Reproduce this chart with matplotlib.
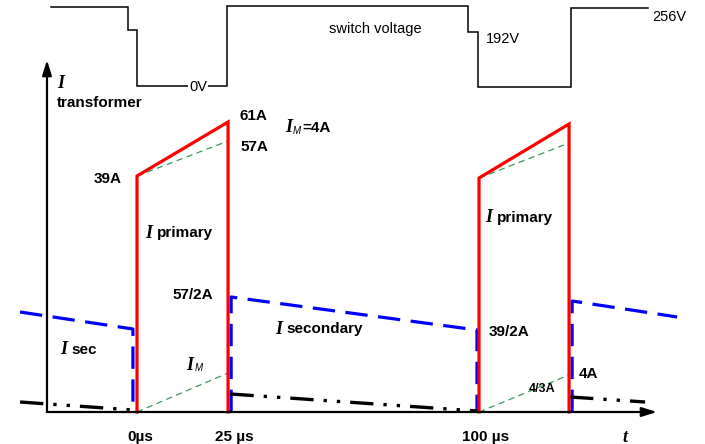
import matplotlib
matplotlib.use("Agg")
import matplotlib.pyplot as plt

# schematic flyback/forward waveforms
# x in microseconds, y in drawing units above the time axis

# switch voltage (top trace)
v_t = [-25.2, -2.7, -2.7, 0.1, 0.1, 26.4, 26.4, 97.0, 97.0, 100.0, 100.0, 127.4, 127.4, 149.9]
v_y = [404.7, 404.7, 382, 382, 326, 326, 406.3, 406.3, 379.7, 379.7, 325.3, 325.3, 403.7, 403.7]

# primary current pulses (red)
prim_on = [0.0, 100.3]
prim_off = [26.7, 126.7]
prim_lo = [236, 234]
prim_hi = [290, 288]

# reflected load current and magnetizing ramp (green, thin dashed)
refl_hi = [271, 269]
mag_hi = [39, 37]

# secondary current (blue dashed)
sec_t = [[-34.3, -1.2, -1.2], [27.6, 27.6, 99.7, 99.7], [127.6, 127.6, 158.4]]
sec_i = [[100, 83, 0], [0, 115, 82, 0], [0, 111, 95]]

# magnetizing current while switch is off (black dash-dot-dot)
moff_t = [[-34.3, -1.2], [27.4, 99.7], [127.0, 149.0]]
moff_i = [[10, 2], [18, 1], [15, 10]]

tick_pos = [0.9, 28.4, 102.1]
tick_lab = ["0\u00b5s", "25 \u00b5s", "100 \u00b5s"]

# bold current labels: text, x, y, ha
cur_labels = [
    ("39A", -4.4, 233, "right"),
    ("61A", 30.2, 296, "left"),
    ("57A", 30.2, 265, "left"),
    ("57/2A", 10.3, 117, "left"),
    ("39/2A", 103.2, 80, "left"),
    ("4A", 129.6, 38, "left"),
]

sans = "Liberation Sans"
serif = "Liberation Serif"

fig = plt.figure(figsize=(7.05, 4.44), dpi=100)
ax = fig.add_axes([0, 0, 1, 1])
ax.set_xlim(-40.18, 166.57)
ax.set_ylim(-32, 412)
ax.set_axis_off()

# axes with arrows
ax.annotate("", xy=(152.5, 0), xytext=(-26.4, 0),
            arrowprops=dict(arrowstyle="-|>,head_length=0.9,head_width=0.28",
                            lw=1.6, color="black", shrinkA=0, shrinkB=0))
ax.annotate("", xy=(-26.4, 352), xytext=(-26.4, 0),
            arrowprops=dict(arrowstyle="-|>,head_length=0.9,head_width=0.28",
                            lw=1.6, color="black", shrinkA=0, shrinkB=0))

# switch voltage
ax.plot(v_t, v_y, color="black", lw=1.1, solid_joinstyle="miter")

# secondary current
for tt, ii in zip(sec_t, sec_i):
    ax.plot(tt, ii, color="#0000ff", lw=2.3, dashes=(7, 3.3), solid_joinstyle="miter")

# magnetizing current during off time
for tt, ii in zip(moff_t, moff_i):
    ax.plot(tt, ii, color="black", lw=2.4, dashes=(7, 3, 1, 3, 1, 3))

# green helper lines
for k in range(2):
    ax.plot([prim_on[k], prim_off[k]], [prim_lo[k], refl_hi[k]], color="#3a9a5c", lw=0.9, dashes=(5, 3.5))
    ax.plot([prim_on[k], prim_off[k]], [0, mag_hi[k]], color="#3a9a5c", lw=0.9, dashes=(5, 3.5))

# primary current
for k in range(2):
    ax.plot([prim_on[k], prim_on[k], prim_off[k], prim_off[k]],
            [0, prim_lo[k], prim_hi[k], 0], color="#ff0000", lw=2.3, solid_joinstyle="miter")

# texts - voltage trace
ax.text(69.8, 383, "switch voltage", fontsize=10.5, family=sans, ha="center", va="center")
ax.text(102.3, 373, "192V", fontsize=10.5, family=sans, ha="left", va="center")
ax.text(151.1, 395, "256V", fontsize=10.5, family=sans, ha="left", va="center")
ax.text(17.9, 325, "0V", fontsize=10.5, family=sans, ha="center", va="center",
        bbox=dict(facecolor="white", edgecolor="none", pad=0.6))

# axis labels
ax.text(-23.5, 328, "I", fontsize=13, family=serif, weight="bold", style="italic", ha="left", va="center")
ax.text(-23.5, 309, "transformer", fontsize=11, family=sans, weight="bold", ha="left", va="center")
ax.text(143.1, -25, "t", fontsize=13, family=serif, weight="bold", style="italic", ha="center", va="center")

for p, s in zip(tick_pos, tick_lab):
    ax.text(p, -25, s, fontsize=11, family=sans, weight="bold", ha="center", va="center")

for s, x, y, ha in cur_labels:
    ax.text(x, y, s, fontsize=11, family=sans, weight="bold", ha=ha, va="center")
ax.text(118.8, 23, "4/3A", fontsize=9, family=sans, weight="bold", ha="center", va="center")

# "I xxx" labels: italic serif I followed by bold sans word
i_labels = [
    (2.3, 179, "primary"),
    (102.1, 194, "primary"),
    (40.5, 83, "secondary"),
    (-22.6, 62, "sec"),
]
for x, y, word in i_labels:
    ax.text(x, y, "I", fontsize=13, family=serif, weight="bold", style="italic", ha="left", va="center")
    ax.text(x + 3.4, y, word, fontsize=11, family=sans, weight="bold", ha="left", va="center")

# I_M labels
for x, y, tail in [(43.4, 284, "=4A"), (14.4, 47, "")]:
    ax.text(x, y, "I", fontsize=13, family=serif, weight="bold", style="italic", ha="left", va="center")
    ax.text(x + 2.4, y - 3, "M", fontsize=7, family=sans, style="italic", ha="left", va="center")
    if tail:
        ax.text(x + 5.0, y, tail, fontsize=11, family=sans, weight="bold", ha="left", va="center")

fig.savefig("out.png", dpi=100)
